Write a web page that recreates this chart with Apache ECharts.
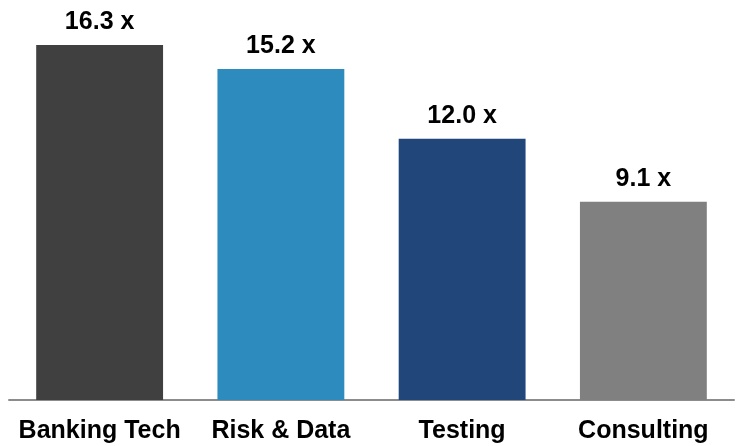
<!DOCTYPE html>
<html>
<head>
<meta charset="utf-8">
<script src="https://cdn.jsdelivr.net/npm/echarts@6/dist/echarts.min.js"></script>
<style>
  html, body { margin: 0; padding: 0; background: #fff; }
  #chart { width: 738px; height: 446px; }
</style>
</head>
<body>
<div id="chart"></div>
<script>
var categories = ['Banking Tech', 'Risk & Data', 'Testing', 'Consulting'];
var multiples = [16.3, 15.2, 12.0, 9.1];
var barColors = ['#404040', '#2E8BBE', '#21467A', '#808080'];

var chart = echarts.init(document.getElementById('chart'));
chart.setOption({
    animation: false,
    grid: { left: 9, right: 4, top: 8, bottom: 46 },
    xAxis: {
        type: 'category',
        data: categories,
        axisLine: { lineStyle: { color: '#8c8c8c', width: 2 } },
        axisTick: { show: false },
        axisLabel: {
            interval: 0,
            margin: 19,
            color: '#000',
            fontFamily: 'Liberation Sans',
            fontWeight: 'bold',
            fontSize: 25
        }
    },
    yAxis: {
        type: 'value',
        min: 0,
        max: 18,
        show: false,
        splitLine: { show: false }
    },
    series: [{
        type: 'bar',
        barWidth: '70%',
        data: multiples.map(function (v, i) {
            return { value: v, itemStyle: { color: barColors[i] } };
        }),
        label: {
            show: true,
            position: 'top',
            distance: 10,
            color: '#000',
            fontFamily: 'Liberation Sans',
            fontWeight: 'bold',
            fontSize: 25,
            formatter: function (p) { return p.value.toFixed(1) + ' x'; }
        }
    }]
});
</script>
</body>
</html>
